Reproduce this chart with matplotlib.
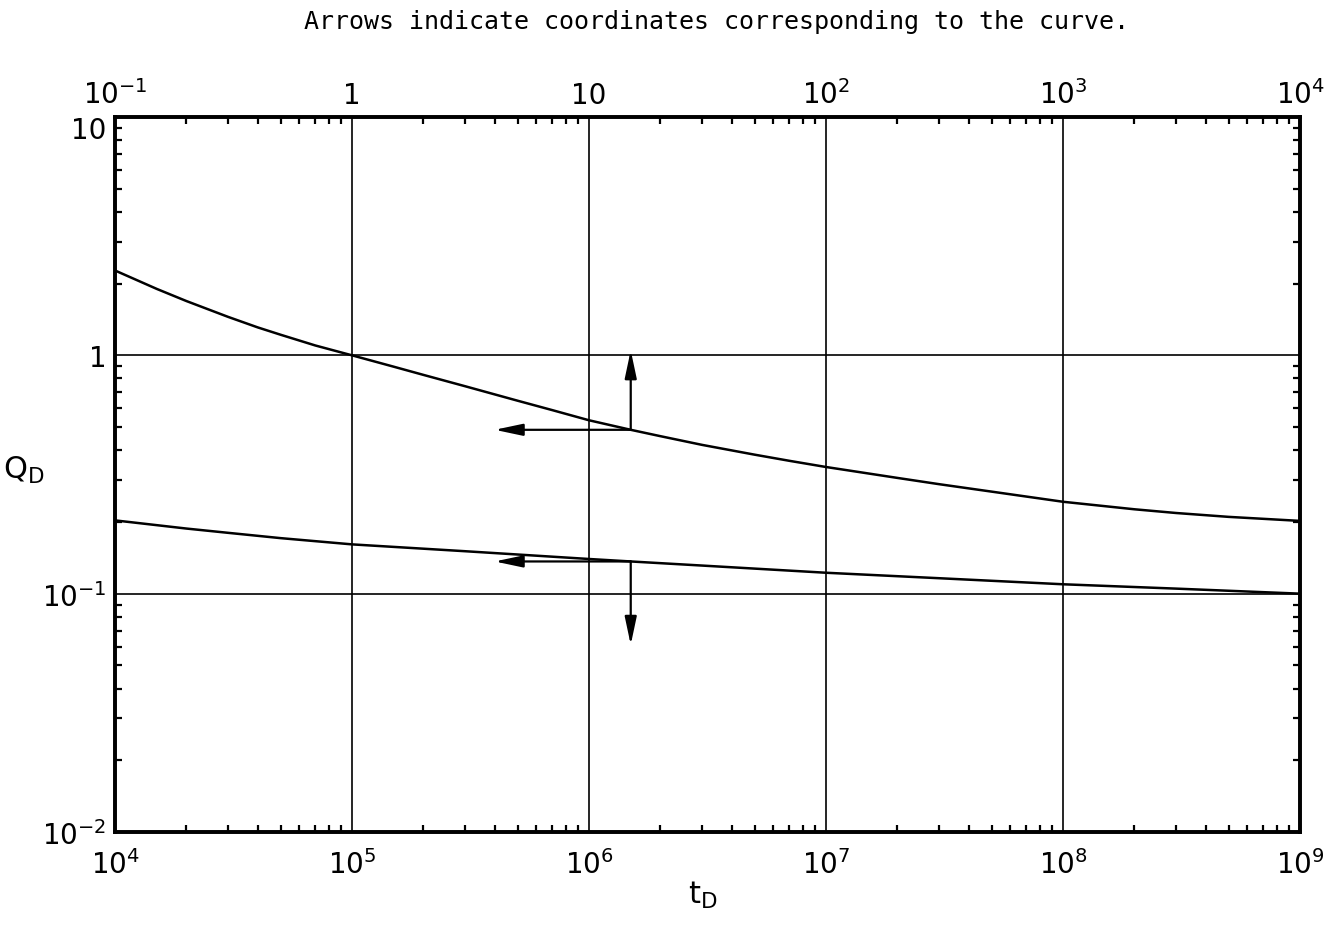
import matplotlib
matplotlib.use("Agg")
import matplotlib.pyplot as plt
from matplotlib.ticker import LogLocator, FixedLocator, FixedFormatter, NullFormatter
from matplotlib.transforms import ScaledTranslation

# ---------------- data ----------------
# upper curve: read against the TOP axis (t_D scaled) and left axis
upper_t = [0.1, 0.15, 0.2, 0.3, 0.4, 0.5, 0.7, 1, 1.5, 2, 3, 5, 7, 10, 15, 20, 30, 50, 70,
           100, 200, 300, 500, 1000, 2000, 3000, 5000, 10000]
upper_q = [2.27, 1.90, 1.69, 1.45, 1.31, 1.22, 1.10, 1.0, 0.896, 0.828, 0.742, 0.645, 0.589,
           0.534, 0.487, 0.458, 0.421, 0.383, 0.361, 0.340, 0.306, 0.288, 0.268, 0.243,
           0.226, 0.218, 0.210, 0.202]

# lower curve: read against the BOTTOM axis (t_D) and left axis
lower_t = [1e4, 2e4, 3e4, 5e4, 1e5, 3e5, 1e6, 1.5e6, 3e6, 1e7, 3e7, 1e8, 3e8, 1e9]
lower_q = [0.203, 0.1876, 0.180, 0.171, 0.161, 0.1507, 0.1398, 0.1365, 0.1312, 0.1224,
           0.1161, 0.1095, 0.105, 0.100]

# arrows (start on curve -> tips)
upper_arrow_t = 15          # top-axis coordinate
upper_arrow_q = 0.487
upper_arrow_tip_q = 1.05
upper_arrow_tip_t = 4.0     # top-axis coordinate
lower_arrow_t = 1.5e6       # bottom-axis coordinate
lower_arrow_q = 0.1365
lower_arrow_tip_q = 0.061
lower_arrow_tip_t = 4.0e5

bottom_ticks = [1e4, 1e5, 1e6, 1e7, 1e8, 1e9]
bottom_labels = ["$10^4$", "$10^5$", "$10^6$", "$10^7$", "$10^8$", "$10^9$"]
top_ticks = [0.1, 1, 10, 100, 1000, 10000]
top_labels = ["$10^{-1}$", "1", "10", "$10^2$", "$10^3$", "$10^4$"]
left_ticks = [0.01, 0.1, 1, 10]
left_labels = ["$10^{-2}$", "$10^{-1}$", "1", "10"]

title_text = "Arrows indicate coordinates corresponding to the curve."

# ---------------- figure ----------------
plt.rcParams["mathtext.fontset"] = "dejavusans"
fig = plt.figure(figsize=(13.31, 9.29), dpi=100)
L, R, T, B = 115, 1300, 118, 833
W, H = 1331, 929
ax = fig.add_axes([L / W, 1 - B / H, (R - L) / W, (B - T) / H])
ax.set_xscale("log")
ax.set_yscale("log")
ax.set_xlim(1e4, 1e9)
ax.set_ylim(0.01, 10)

ax2 = ax.twiny()
ax2.set_xscale("log")
ax2.set_xlim(0.1, 1e4)

for a in (ax, ax2):
    for s in a.spines.values():
        s.set_linewidth(2.6)
        s.set_color("black")

ax.grid(True, which="major", color="black", linewidth=1.2)
ax.set_axisbelow(False)

# ticks
ax.xaxis.set_major_locator(FixedLocator(bottom_ticks))
ax.xaxis.set_major_formatter(FixedFormatter(bottom_labels))
ax.xaxis.set_minor_locator(LogLocator(base=10, subs=range(2, 10), numticks=20))
ax.xaxis.set_minor_formatter(NullFormatter())
ax.yaxis.set_major_locator(FixedLocator(left_ticks))
ax.yaxis.set_major_formatter(FixedFormatter(left_labels))
ax.yaxis.set_minor_locator(LogLocator(base=10, subs=range(2, 10), numticks=20))
ax.yaxis.set_minor_formatter(NullFormatter())
ax2.xaxis.set_major_locator(FixedLocator(top_ticks))
ax2.xaxis.set_major_formatter(FixedFormatter(top_labels))
ax2.xaxis.set_minor_locator(LogLocator(base=10, subs=range(2, 10), numticks=20))
ax2.xaxis.set_minor_formatter(NullFormatter())

ax.tick_params(axis="x", which="major", length=0, pad=12, labelsize=20, top=False, labeltop=False)
ax.tick_params(axis="y", which="major", length=0, pad=6, labelsize=20, right=True)
ax.tick_params(axis="x", which="minor", direction="in", length=5, width=1.6, top=False)
ax.tick_params(axis="y", which="minor", direction="in", length=5, width=1.6, left=True, right=True)
ax2.tick_params(axis="x", which="major", length=0, pad=6, labelsize=20)
ax2.tick_params(axis="x", which="minor", direction="in", length=5, width=1.6)

# nudge the topmost left label ("10") slightly down so it clears the top-axis label
top_left_tick = ax.yaxis.get_major_ticks()[-1]
top_left_tick.label1.set_transform(top_left_tick.label1.get_transform()
                                   + ScaledTranslation(0, -7 / 72, fig.dpi_scale_trans))

# curves
ax2.plot(upper_t, upper_q, color="black", linewidth=1.8, solid_capstyle="butt")
ax.plot(lower_t, lower_q, color="black", linewidth=1.8, solid_capstyle="butt")

# arrows
astyle = "-|>,head_length=1.7,head_width=0.36"
ap = dict(arrowstyle=astyle, color="black", lw=1.6, shrinkA=0, shrinkB=0, mutation_scale=10)
ax2.annotate("", xy=(upper_arrow_t, upper_arrow_tip_q), xytext=(upper_arrow_t, upper_arrow_q),
             arrowprops=ap)
ax2.annotate("", xy=(upper_arrow_tip_t, upper_arrow_q), xytext=(upper_arrow_t, upper_arrow_q),
             arrowprops=ap)
ax.annotate("", xy=(lower_arrow_t, lower_arrow_tip_q), xytext=(lower_arrow_t, lower_arrow_q),
            arrowprops=ap)
ax.annotate("", xy=(lower_arrow_tip_t, lower_arrow_q), xytext=(lower_arrow_t, lower_arrow_q),
            arrowprops=ap)

# labels
fig.text(24 / W, 1 - 470 / H, r"$\mathrm{Q}_\mathrm{D}$", fontsize=22, ha="center", va="center")
fig.text(703 / W, 1 - 895 / H, r"$\mathrm{t}_\mathrm{D}$", fontsize=22, ha="center", va="center")
fig.text(716 / W, 1 - 22 / H, title_text, fontsize=18, family="DejaVu Sans Mono",
         ha="center", va="center")

fig.savefig("out.png", dpi=100)
